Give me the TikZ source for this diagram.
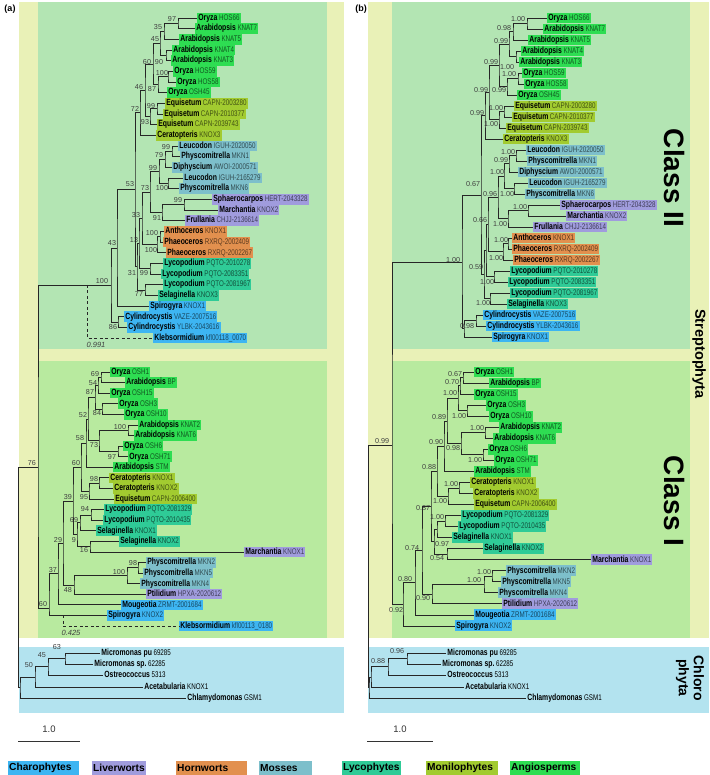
\documentclass[tikz,border=0pt]{standalone}
\usepackage{fontspec}
\setmainfont{Liberation Sans}
\newfontfamily\nf[FakeStretch=0.76]{Liberation Sans}
\usetikzlibrary{calc}
\definecolor{cyel}{HTML}{E9F1B7}
\definecolor{cII}{HTML}{B3E5B3}
\definecolor{cI}{HTML}{B8EA9F}
\definecolor{cblue}{HTML}{B3E3EF}
\definecolor{charo}{HTML}{3DB5F2}
\definecolor{liver}{HTML}{A09CDD}
\definecolor{horn}{HTML}{E2904E}
\definecolor{moss}{HTML}{7DBFCB}
\definecolor{lyco}{HTML}{2FCB97}
\definecolor{moni}{HTML}{A2CB30}
\definecolor{angio}{HTML}{2EDD52}
\tikzset{
  br/.style={line width=0.75pt, black!85},
  dsh/.style={line width=0.75pt, black!85, dash pattern=on 3pt off 2.5pt},
  leafbox/.style={anchor=west, inner xsep=1.2pt, inner ysep=0pt, minimum height=10.5pt,
    text height=6.6pt, text depth=2pt, font=\nf\fontsize{9}{10}\selectfont},
  sup/.style={font=\fontsize{7.2}{8}\selectfont, text=black!75, inner sep=0pt},
  itl/.style={font=\itshape\fontsize{7.5}{8}\selectfont, text=black!75, inner sep=0pt},
  legbox/.style={anchor=west, inner xsep=1pt, inner ysep=0pt, minimum height=14pt,
    align=left, font=\bfseries\fontsize{10.2}{11}\selectfont},
  bigl/.style={rotate=-90, inner sep=0pt, font=\bfseries\fontsize{28}{30}\selectfont},
}
\newcommand\Lf[6]{\node[leafbox,fill=#4] (#1) at (#2,#3) {\textbf{#5}\hspace{1.6pt}\textcolor{#4!40!black}{\fontsize{8.2}{9}\selectfont #6}};}
\newcommand\Cf[5]{\node[leafbox] (#1) at (#2,#3) {\textbf{#4}\hspace{1.6pt}{\fontsize{8.2}{9}\selectfont #5}};}
\newcommand\Nd[7]{%
  \coordinate (tmp) at ($(#3)!0.5!(#4)$);
  \coordinate (#1) at (tmp -| #2,0);
  \draw[br] (#3) -| (#1) |- (#4);
  \node[sup] (#1l) at (#6,#7) {#5};}
\newcommand\Ndy[8]{%
  \coordinate (#1) at (#2,#3);
  \draw[br] (#4) -| (#1) |- (#5);
  \node[sup] (#1l) at (#7,#8) {#6};}
\begin{document}
\begin{tikzpicture}[x=1pt,y=-1pt]
\useasboundingbox (0,0) rectangle (709,775);
\fill[white] (0,0) rectangle (709,775);
% backgrounds
\fill[cyel] (19,2) rectangle (344,638);
\fill[cII] (38,2) rectangle (327,349);
\fill[cI] (38,361) rectangle (327,638);
\fill[cblue] (19,647) rectangle (344,713);
\fill[cyel] (368,2) rectangle (709,638);
\fill[cII] (392,2) rectangle (690,349);
\fill[cI] (392,361) rectangle (690,638);
\fill[cblue] (368,647) rectangle (709,713);
\node[font=\bfseries\fontsize{9}{10}\selectfont, inner sep=0pt] (pa) at (10,9) {(a)};
\node[font=\bfseries\fontsize{9}{10}\selectfont, inner sep=0pt] (pb) at (361,9) {(b)};
\node[bigl] (cl2) at (674,178) {Class II};
\node[bigl] (cl1) at (674,501) {Class I};
\node[rotate=-90, inner sep=0pt, font=\bfseries\fontsize{14.5}{16}\selectfont] (strep) at (699,354) {Streptophyta};
\node[rotate=-90, inner sep=0pt, align=center, font=\bfseries\fontsize{14}{15}\selectfont] (chlo) at (690,678) {Chloro\\phyta};
% ===== panel (a) leaves, Class II
\Lf{aL1}{197}{18}{angio}{Oryza}{HOS66}
\Lf{aL2}{195}{28.7}{angio}{Arabidopsis}{KNAT7}
\Lf{aL3}{179}{39.3}{angio}{Arabidopsis}{KNAT5}
\Lf{aL4}{172}{50}{angio}{Arabidopsis}{KNAT4}
\Lf{aL5}{171}{60.7}{angio}{Arabidopsis}{KNAT3}
\Lf{aL6}{173}{71.3}{angio}{Oryza}{HOS59}
\Lf{aL7}{176}{82}{angio}{Oryza}{HOS58}
\Lf{aL8}{167}{92.7}{angio}{Oryza}{OSH45}
\Lf{aL9}{165}{103.3}{moni}{Equisetum}{CAPN-2003280}
\Lf{aL10}{163}{114}{moni}{Equisetum}{CAPN-2010377}
\Lf{aL11}{157}{124.7}{moni}{Equisetum}{CAPN-2039743}
\Lf{aL12}{156}{135.3}{moni}{Ceratopteris}{KNOX3}
\Lf{aL13}{178}{146}{moss}{Leucodon}{IGUH-2020050}
\Lf{aL14}{180}{156.7}{moss}{Physcomitrella}{MKN1}
\Lf{aL15}{172}{167.3}{moss}{Diphyscium}{AWOI-2000571}
\Lf{aL16}{183}{178}{moss}{Leucodon}{IGUH-2165279}
\Lf{aL17}{179}{188.7}{moss}{Physcomitrella}{MKN6}
\Lf{aL18}{212}{199.3}{liver}{Sphaerocarpos}{HERT-2043328}
\Lf{aL19}{218}{210}{liver}{Marchantia}{KNOX2}
\Lf{aL20}{185}{220.7}{liver}{Frullania}{CHJJ-2136614}
\Lf{aL21}{164}{231.3}{horn}{Anthoceros}{KNOX1}
\Lf{aL22}{163}{242}{horn}{Phaeoceros}{RXRQ-2002409}
\Lf{aL23}{166}{252.7}{horn}{Phaeoceros}{RXRQ-2002267}
\Lf{aL24}{163}{263.3}{lyco}{Lycopodium}{PQTO-2010278}
\Lf{aL25}{161}{274}{lyco}{Lycopodium}{PQTO-2083351}
\Lf{aL26}{163}{284.7}{lyco}{Lycopodium}{PQTO-2081967}
\Lf{aL27}{158}{295.3}{lyco}{Selaginella}{KNOX3}
\Lf{aL28}{149}{306}{charo}{Spirogyra}{KNOX1}
\Lf{aL29}{124}{316.7}{charo}{Cylindrocystis}{VAZE-2007516}
\Lf{aL30}{127}{327.3}{charo}{Cylindrocystis}{YLBK-2043616}
\Lf{aL31}{153}{338}{charo}{Klebsormidium}{kfl00118\_0070}
% Class I
\Lf{aM1}{110}{372}{angio}{Oryza}{OSH1}
\Lf{aM2}{125}{382.6}{angio}{Arabidopsis}{BP}
\Lf{aM3}{110}{393.2}{angio}{Oryza}{OSH15}
\Lf{aM4}{118}{403.7}{angio}{Oryza}{OSH3}
\Lf{aM5}{124}{414.3}{angio}{Oryza}{OSH10}
\Lf{aM6}{138}{424.9}{angio}{Arabidopsis}{KNAT2}
\Lf{aM7}{134}{435.5}{angio}{Arabidopsis}{KNAT6}
\Lf{aM8}{123}{446.1}{angio}{Oryza}{OSH6}
\Lf{aM9}{128}{456.7}{angio}{Oryza}{OSH71}
\Lf{aM10}{113}{467.2}{angio}{Arabidopsis}{STM}
\Lf{aM11}{109}{477.8}{moni}{Ceratopteris}{KNOX1}
\Lf{aM12}{113}{488.4}{moni}{Ceratopteris}{KNOX2}
\Lf{aM13}{114}{499}{moni}{Equisetum}{CAPN-2006400}
\Lf{aM14}{104}{509.6}{lyco}{Lycopodium}{PQTO-2081329}
\Lf{aM15}{103}{520.2}{lyco}{Lycopodium}{PQTO-2010435}
\Lf{aM16}{96}{530.7}{lyco}{Selaginella}{KNOX1}
\Lf{aM17}{119}{541.3}{lyco}{Selaginella}{KNOX2}
\Lf{aM18}{244}{551.9}{liver}{Marchantia}{KNOX1}
\Lf{aM19}{146}{562.5}{moss}{Physcomitrella}{MKN2}
\Lf{aM20}{143}{573.1}{moss}{Physcomitrella}{MKN5}
\Lf{aM21}{140}{583.7}{moss}{Physcomitrella}{MKN4}
\Lf{aM22}{146}{594.2}{liver}{Ptilidium}{HPXA-2020612}
\Lf{aM23}{121}{604.8}{charo}{Mougeotia}{ZRMT-2001684}
\Lf{aM24}{107}{615.4}{charo}{Spirogyra}{KNOX2}
\Lf{aM25}{179}{626}{charo}{Klebsormidium}{kfl00113\_0180}
% Chlorophyta
\Cf{aC1}{100}{653}{Micromonas pu}{69285}
\Cf{aC2}{93}{664}{Micromonas sp.}{62285}
\Cf{aC3}{103}{675}{Ostreococcus}{5313}
\Cf{aC4}{143}{687}{Acetabularia}{KNOX1}
\Cf{aC5}{186}{698}{Chlamydomonas}{GSM1}
% ===== panel (a) tree, Class II
\Nd{a97}{178}{aL1}{aL2}{97}{172}{19}
\Nd{a35}{164}{a97}{aL3}{35}{158}{27}
\Nd{a90}{166}{aL4}{aL5}{90}{159}{62}
\Nd{a45}{160}{a35}{a90}{45}{155}{39}
\Nd{a100h}{168}{aL6}{aL7}{100}{162}{73}
\Nd{a87}{158}{a100h}{aL8}{87}{152}{89}
\Nd{a60}{153}{a45}{a87}{60}{147}{62}
\Nd{a99e}{157}{aL9}{aL10}{99}{151}{106}
\Nd{a93}{150}{a99e}{aL11}{93}{145}{122}
\Nd{a46}{145}{a60}{a93}{46}{139}{87}
\Nd{a72}{140}{a46}{aL12}{72}{135}{109}
\Nd{a99L}{172}{aL13}{aL14}{99}{166}{147}
\Nd{a79}{165}{a99L}{aL15}{79}{159}{155}
\Nd{a100m}{168}{aL16}{aL17}{100}{162}{188}
\Nd{a99m}{159}{a79}{a100m}{99}{153}{168}
\Nd{a99lv}{184}{aL18}{aL19}{99}{178}{200}
\Nd{a91}{162}{a99lv}{aL20}{91}{157}{218}
\Nd{a73}{150}{a99m}{a91}{73}{145}{188}
\Nd{a100a}{160}{aL21}{aL22}{100}{152}{233}
\Nd{a100b}{157}{a100a}{aL23}{100}{151}{250}
\Nd{a33}{142}{a73}{a100b}{33}{136}{215}
\Nd{a99ly}{150}{aL24}{aL25}{99}{144}{273}
\Nd{a13}{139}{a33}{a99ly}{13}{134}{240}
\Nd{a77}{145}{aL26}{aL27}{77}{139}{294}
\Nd{a31}{137}{a13}{a77}{31}{132}{273}
\Nd{a53}{135}{a72}{a31}{53}{130}{184}
\Nd{a43}{117}{a53}{aL28}{43}{112}{243}
\Nd{a86}{118}{aL29}{aL30}{86}{113}{327}
\Nd{a100c}{111}{a43}{a86}{100}{102}{281}
% Class I
\Nd{a69}{101}{aM1}{aM2}{69}{95}{374}
\Nd{a54}{98}{a69}{aM3}{54}{93}{383}
\Nd{a84}{102}{aM4}{aM5}{84}{97}{413}
\Nd{a87b}{95}{a54}{a84}{87}{90}{392}
\Nd{a100k}{128}{aM6}{aM7}{100}{120}{427}
\Nd{a97b}{118}{aM8}{aM9}{97}{112}{457}
\Nd{a73b}{99}{a100k}{a97b}{73}{94}{445}
\Nd{a52}{88}{a87b}{a73b}{52}{83}{415}
\Nd{a58}{86}{a52}{aM10}{58}{80}{438}
\Nd{a98c}{99}{aM11}{aM12}{98}{94}{479}
\Nd{a95}{89}{a98c}{aM13}{95}{84}{497}
\Nd{a60b}{81}{a58}{a95}{60}{76}{463}
\Nd{a94}{91}{aM14}{aM15}{94}{85}{509}
\Nd{a69c}{80}{a94}{aM16}{69}{74}{520}
\Nd{a16}{90}{aM17}{aM18}{16}{84}{550}
\Nd{a9}{77}{a69c}{a16}{9}{74}{540}
\Nd{a39}{73}{a60b}{a9}{39}{68}{497}
\Nd{a98p}{138}{aM19}{aM20}{98}{133}{563}
\Nd{a100p}{127}{a98p}{aM21}{100}{119}{572}
\Nd{a48}{74}{a100p}{aM22}{48}{68}{590}
\Nd{a29}{63}{a39}{a48}{29}{58}{540}
\Nd{a37}{58}{a29}{aM23}{37}{53}{570}
\Ndy{a60r}{49}{608}{a37}{aM24}{60}{43}{604}
% Streptophyta, Chlorophyta, root
\Ndy{a76}{38}{467}{a100c}{a60r}{76}{32}{463}
\Nd{a63}{65}{aC1}{aC2}{63}{57}{647}
\Nd{a45c}{48}{a63}{aC3}{45}{42}{655}
\Nd{a50}{35}{a45c}{aC4}{50}{29}{665}
\Nd{aChl}{20}{a50}{aC5}{}{0}{0}
\Ndy{aroot}{18}{467}{a76}{aChl}{}{0}{0}
% dashed Klebsormidium placements
\coordinate (ak1) at (a100c -| 87,0);
\draw[dsh] (ak1) |- (aL31);
\node[itl] (ak1l) at (96,345) {0.991};
\coordinate (ak2) at (aM24 -| 63,0);
\draw[dsh] (ak2) |- (aM25);
\node[itl] (ak2l) at (71,633) {0.425};
% ===== panel (b) leaves
\begin{scope}[leafbox/.append style={minimum height=10.9pt}]
\Lf{bL1}{547}{18}{angio}{Oryza}{HOS66}
\Lf{bL2}{543}{29}{angio}{Arabidopsis}{KNAT7}
\Lf{bL3}{528}{40}{angio}{Arabidopsis}{KNAT5}
\Lf{bL4}{521}{51}{angio}{Arabidopsis}{KNAT4}
\Lf{bL5}{519}{62}{angio}{Arabidopsis}{KNAT3}
\Lf{bL6}{522}{73}{angio}{Oryza}{HOS59}
\Lf{bL7}{524}{84}{angio}{Oryza}{HOS58}
\Lf{bL8}{517}{95}{angio}{Oryza}{OSH45}
\Lf{bL9}{514}{106}{moni}{Equisetum}{CAPN-2003280}
\Lf{bL10}{512}{117}{moni}{Equisetum}{CAPN-2010377}
\Lf{bL11}{506}{128}{moni}{Equisetum}{CAPN-2039743}
\Lf{bL12}{503}{139}{moni}{Ceratopteris}{KNOX3}
\Lf{bL13}{526}{150}{moss}{Leucodon}{IGUH-2020050}
\Lf{bL14}{527}{161}{moss}{Physcomitrella}{MKN1}
\Lf{bL15}{518}{172}{moss}{Diphyscium}{AWOI-2000571}
\Lf{bL16}{528}{183}{moss}{Leucodon}{IGUH-2165279}
\Lf{bL17}{525}{194}{moss}{Physcomitrella}{MKN6}
\Lf{bL18}{560}{205}{liver}{Sphaerocarpos}{HERT-2043328}
\Lf{bL19}{566}{216}{liver}{Marchantia}{KNOX2}
\Lf{bL20}{533}{227}{liver}{Frullania}{CHJJ-2136614}
\Lf{bL21}{512}{238}{horn}{Anthoceros}{KNOX1}
\Lf{bL22}{512}{249}{horn}{Phaeoceros}{RXRQ-2002409}
\Lf{bL23}{513}{260}{horn}{Phaeoceros}{RXRQ-2002267}
\Lf{bL24}{510}{271}{lyco}{Lycopodium}{PQTO-2010278}
\Lf{bL25}{508}{282}{lyco}{Lycopodium}{PQTO-2083351}
\Lf{bL26}{510}{293}{lyco}{Lycopodium}{PQTO-2081967}
\Lf{bL27}{507}{304}{lyco}{Selaginella}{KNOX3}
\Lf{bL28}{483}{315}{charo}{Cylindrocystis}{VAZE-2007516}
\Lf{bL29}{486}{326}{charo}{Cylindrocystis}{YLBK-2043616}
\Lf{bL30}{492}{337}{charo}{Spirogyra}{KNOX1}
\Lf{bM1}{474}{372}{angio}{Oryza}{OSH1}
\Lf{bM2}{489}{383}{angio}{Arabidopsis}{BP}
\Lf{bM3}{474}{394.1}{angio}{Oryza}{OSH15}
\Lf{bM4}{486}{405.1}{angio}{Oryza}{OSH3}
\Lf{bM5}{489}{416.2}{angio}{Oryza}{OSH10}
\Lf{bM6}{499}{427.2}{angio}{Arabidopsis}{KNAT2}
\Lf{bM7}{493}{438.2}{angio}{Arabidopsis}{KNAT6}
\Lf{bM8}{488}{449.3}{angio}{Oryza}{OSH6}
\Lf{bM9}{494}{460.3}{angio}{Oryza}{OSH71}
\Lf{bM10}{474}{471.4}{angio}{Arabidopsis}{STM}
\Lf{bM11}{470}{482.4}{moni}{Ceratopteris}{KNOX1}
\Lf{bM12}{473}{493.4}{moni}{Ceratopteris}{KNOX2}
\Lf{bM13}{474}{504.5}{moni}{Equisetum}{CAPN-2006400}
\Lf{bM14}{461}{515.5}{lyco}{Lycopodium}{PQTO-2081329}
\Lf{bM15}{458}{526.6}{lyco}{Lycopodium}{PQTO-2010435}
\Lf{bM16}{452}{537.6}{lyco}{Selaginella}{KNOX1}
\Lf{bM17}{483}{548.6}{lyco}{Selaginella}{KNOX2}
\Lf{bM18}{591}{559.7}{liver}{Marchantia}{KNOX1}
\Lf{bM19}{506}{570.7}{moss}{Physcomitrella}{MKN2}
\Lf{bM20}{501}{581.8}{moss}{Physcomitrella}{MKN5}
\Lf{bM21}{498}{592.8}{moss}{Physcomitrella}{MKN4}
\Lf{bM22}{502}{603.8}{liver}{Ptilidium}{HPXA-2020612}
\Lf{bM23}{474}{614.9}{charo}{Mougeotia}{ZRMT-2001684}
\Lf{bM24}{455}{625.9}{charo}{Spirogyra}{KNOX2}
\end{scope}
\Cf{bC1}{446}{653}{Micromonas pu}{69285}
\Cf{bC2}{441}{664}{Micromonas sp.}{62285}
\Cf{bC3}{446}{675}{Ostreococcus}{5313}
\Cf{bC4}{464}{687}{Acetabularia}{KNOX1}
\Cf{bC5}{526}{698}{Chlamydomonas}{GSM1}
% ===== panel (b) tree, Class II
\Nd{b1}{527}{bL1}{bL2}{1.00}{518}{19}
\Nd{b2}{513}{b1}{bL3}{0.98}{504}{28}
\Nd{b4}{516}{bL4}{bL5}{1.00}{507}{67}
\Nd{b3}{509}{b2}{b4}{0.99}{501}{41}
\Nd{b5}{518}{bL6}{bL7}{1.00}{509}{74}
\Nd{b6}{507}{b5}{bL8}{0.99}{499}{90}
\Nd{b7}{499}{b3}{b6}{0.99}{491}{62}
\Nd{b8}{504}{bL9}{bL10}{1.00}{496}{108}
\Nd{b9}{499}{b8}{bL11}{1.00}{491}{124}
\Nd{b10}{489}{b7}{b9}{0.99}{481}{90}
\Nd{b11}{485}{b10}{bL12}{0.99}{477}{113}
\Nd{b12}{516}{bL13}{bL14}{1.00}{508}{152}
\Nd{b13}{509}{b12}{bL15}{0.99}{501}{160}
\Nd{b14}{514}{bL16}{bL17}{1.00}{507}{194}
\Nd{b15}{504}{b13}{b14}{1.00}{497}{172}
\Nd{b16}{528}{bL18}{bL19}{1.00}{520}{207}
\Nd{b17}{508}{b16}{bL20}{1.00}{500}{224}
\Nd{b18}{498}{b15}{b17}{0.96}{490}{194}
\Nd{b19}{508}{bL21}{bL22}{1.00}{501}{240}
\Nd{b20}{503}{b19}{bL23}{1.00}{496}{258}
\Nd{b21}{488}{b18}{b20}{0.66}{480}{220}
\Nd{b22}{494}{bL24}{bL25}{1.00}{487}{282}
\Nd{b24}{486}{b21}{b22}{}{0}{0}
\Nd{b23}{490}{bL26}{bL27}{1.00}{483}{303}
\Nd{bX}{484}{b24}{b23}{0.59}{476}{267}
\Nd{b067}{481}{b11}{bX}{0.67}{473}{184}
\Nd{bcyl}{476}{bL28}{bL29}{0.98}{467}{326}
\Nd{bcs}{464}{bcyl}{bL30}{}{0}{0}
\Nd{bR2}{462}{b067}{bcs}{1.00}{453}{260}
% Class I
\Nd{bb1}{463}{bM1}{bM2}{0.67}{455}{374}
\Nd{bb2}{460}{bb1}{bM3}{0.70}{452}{382}
\Nd{bb4}{467}{bM4}{bM5}{1.00}{459}{416}
\Nd{bb3}{458}{bb2}{bb4}{1.00}{450}{393}
\Nd{bb7}{485}{bM6}{bM7}{1.00}{477}{428}
\Nd{bb8}{483}{bM8}{bM9}{1.00}{475}{460}
\Nd{bb6}{461}{bb7}{bb8}{0.98}{453}{448}
\Nd{bb5}{447}{bb3}{bb6}{0.89}{439}{417}
\Nd{bb9}{444}{bb5}{bM10}{0.90}{436}{442}
\Nd{bb12}{459}{bM11}{bM12}{1.00}{451}{484}
\Nd{bb11}{448}{bb12}{bM13}{1.00}{440}{501}
\Nd{bb10}{437}{bb9}{bb11}{0.88}{429}{467}
\Nd{bb15}{445}{bM14}{bM15}{1.00}{437}{517}
\Nd{bb16}{437}{bb15}{bM16}{}{0}{0}
\Nd{bb17}{447}{bM17}{bM18}{0.54}{437}{558}
\Nd{bb18}{434}{bb16}{bb17}{0.97}{442}{544}
\Nd{bb13}{431}{bb10}{bb18}{0.87}{423}{508}
\Nd{bb19}{492}{bM19}{bM20}{1.00}{484}{572}
\Nd{bb20}{484}{bb19}{bM21}{1.00}{474}{580}
\Nd{bb21}{432}{bb20}{bM22}{0.90}{423}{598}
\Nd{bb22}{422}{bb13}{bb21}{0.74}{412}{548}
\Nd{bb23}{415}{bb22}{bM23}{0.80}{405}{579}
\Nd{bb24}{403}{bb23}{bM24}{0.92}{396}{610}
% Streptophyta, Chlorophyta, root
\Ndy{bS}{392}{445}{bR2}{bb24}{0.99}{382}{441}
\Nd{b096}{407}{bC1}{bC2}{0.96}{397}{651}
\Nd{b088}{388}{b096}{bC3}{0.88}{378}{661}
\Nd{bc1}{371}{b088}{bC4}{}{0}{0}
\Nd{bc2}{369}{bc1}{bC5}{}{0}{0}
\Ndy{broot}{368}{445}{bS}{bc2}{}{0}{0}
% ===== scale bars
\coordinate (sa1) at (18,741); \coordinate (sa2) at (80,741);
\draw[line width=0.8pt, black!80] (sa1) -- (sa2);
\node[font=\fontsize{9.5}{10}\selectfont, text=black!80] (sat) at ($(sa1)!0.5!(sa2)+(0,-12)$) {1.0};
\coordinate (sb1) at (367,741); \coordinate (sb2) at (433,741);
\draw[line width=0.8pt, black!80] (sb1) -- (sb2);
\node[font=\fontsize{9.5}{10}\selectfont, text=black!80] (sbt) at ($(sb1)!0.5!(sb2)+(0,-12)$) {1.0};
% ===== legend
\node[legbox, fill=charo, text width=69pt] (lg1) at (8,768) {Charophytes};
\node[legbox, fill=liver, text width=52pt] (lg2) at (92,768) {Liverworts};
\node[legbox, fill=horn, text width=69pt] (lg3) at (176,768) {Hornworts};
\node[legbox, fill=moss, text width=51pt] (lg4) at (259,768) {Mosses};
\node[legbox, fill=lyco, text width=57pt] (lg5) at (342,768) {Lycophytes};
\node[legbox, fill=moni, text width=70pt] (lg6) at (426,768) {Monilophytes};
\node[legbox, fill=angio, text width=68pt] (lg7) at (510,768) {Angiosperms};
\end{tikzpicture}
\end{document}
